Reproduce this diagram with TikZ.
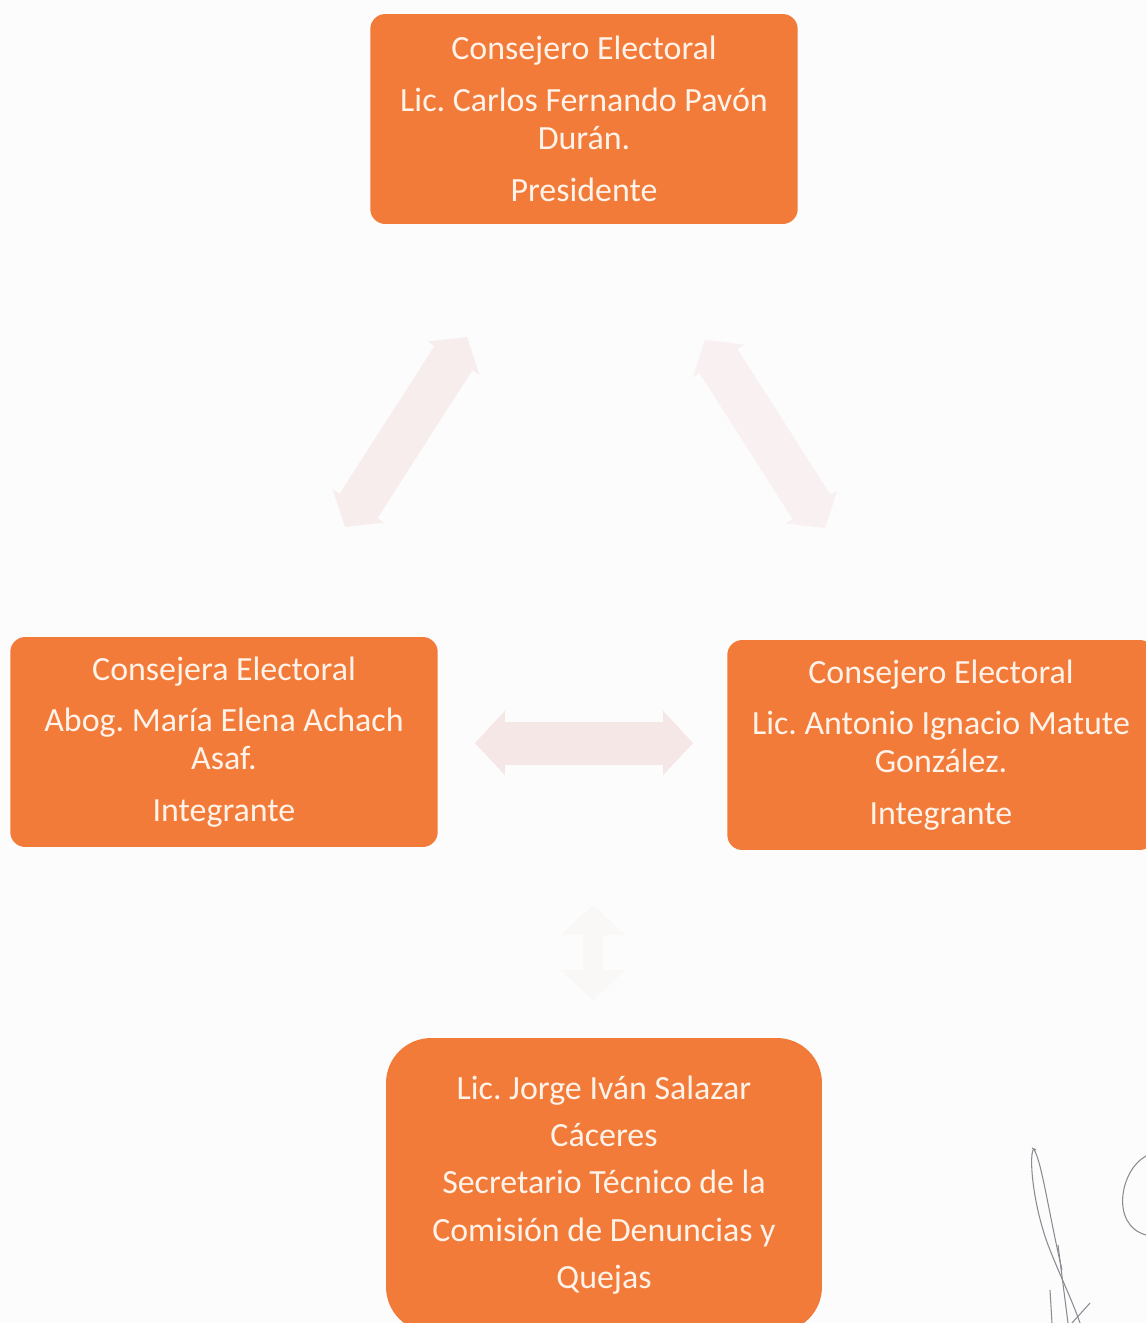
\documentclass[tikz,border=0pt]{standalone}
\usepackage{fontspec}
\setmainfont{Carlito}
\usetikzlibrary{arrows.meta}
\definecolor{boxorange}{HTML}{F27B3A}
\definecolor{boxtext}{HTML}{FFF3EA}
\definecolor{arrowpink}{HTML}{F5E7E5}
\definecolor{paper}{HTML}{FCFCFD}
\definecolor{ink}{HTML}{8E8890}
\tikzstyle{member} = [rectangle, rounded corners=0.3cm, minimum width=8.55cm, minimum height=4.2cm, align=center, fill=boxorange, text=boxtext, font=\fontsize{19.3}{21.5}\selectfont]
\tikzstyle{secretary} = [member, rounded corners=0.9cm, minimum width=8.72cm, minimum height=5.88cm, font=\fontsize{19.3}{27}\selectfont]
\tikzstyle{link} = [line width=0.86cm, arrowpink, {Triangle[width=1.26cm,length=0.6cm]}-{Triangle[width=1.26cm,length=0.6cm]}]
\tikzstyle{slantlink} = [link, arrowpink!70!paper, line width=0.9cm, {Triangle[width=1.2cm,length=0.5cm]}-{Triangle[width=1.2cm,length=0.5cm]}]
\tikzstyle{faintlink} = [link, arrowpink!25!paper]
\tikzstyle{signature} = [ink, line width=0.6pt]

\begin{document}
\frenchspacing
\begin{tikzpicture}[x=0.02cm, y=-0.02cm]

\fill[paper] (0,0) rectangle (1146,1323);
\useasboundingbox (0,0) rectangle (1146,1323);
\clip (0,0) rectangle (1146,1323);

% Nodes
\node (pres) [member] at (584,119) {Consejero Electoral\\[8pt] Lic. Carlos Fernando Pavón\\ Durán.\\[8pt] Presidente};
\node (achach) [member] at (224,742) {Consejera Electoral\\[8pt] Abog. María Elena Achach\\ Asaf.\\[8pt] Integrante};
\node (matute) [member] at (941,745) {Consejero Electoral\\[8pt] Lic. Antonio Ignacio Matute\\ González.\\[8pt] Integrante};
\node (salazar) [secretary] at (604,1185) {Lic. Jorge Iván Salazar\\ Cáceres\\ Secretario Técnico de la\\ Comisión de Denuncias y\\ Quejas};

% Arrow ends
\coordinate (leftlow) at (345,527);
\coordinate (lefthigh) at (467,337);
\coordinate (righthigh) at (705,340);
\coordinate (rightlow) at (825,528);
\coordinate (midleft) at (475,743);
\coordinate (midright) at (693,743);
\coordinate (downtop) at (593,905);
\coordinate (downlow) at (593,1000);

% Arrows
\draw [slantlink] (leftlow) -- (lefthigh);
\draw [slantlink, arrowpink!50!paper] (righthigh) -- (rightlow);
\draw [link] (midleft) -- (midright);
\draw [faintlink, line width=0.4cm] (downtop) -- (downlow);

% Signature
\draw [signature] (1036,1150) .. controls (1028,1140) and (1030,1200) .. (1050,1250) .. controls (1062,1280) and (1072,1300) .. (1080,1323);
\draw [signature] (1032,1148) .. controls (1040,1150) and (1048,1210) .. (1062,1270);
\draw [signature] (1058,1245) -- (1068,1323);
\draw [signature] (1050,1290) -- (1052,1323);
\draw [signature] (1090,1303) -- (1072,1323);
\draw [signature] (1146,1156) .. controls (1120,1170) and (1110,1225) .. (1146,1235);

\end{tikzpicture}
\end{document}
